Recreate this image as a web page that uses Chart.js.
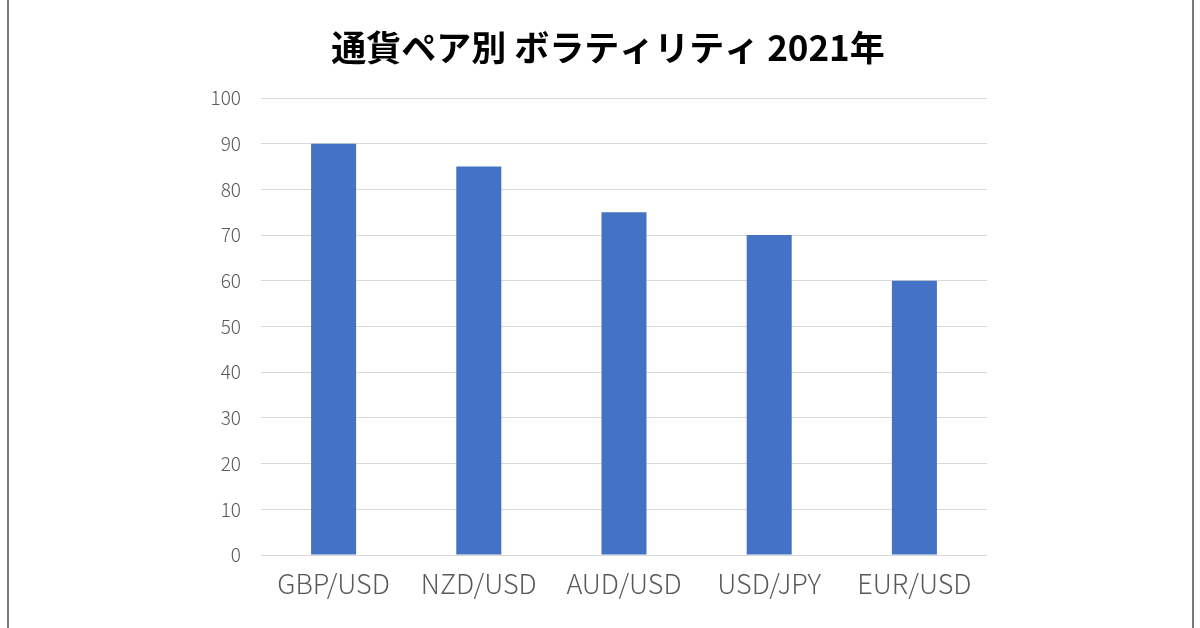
<!DOCTYPE html>
<html>
<head>
<meta charset="utf-8">
<script src="https://cdn.jsdelivr.net/npm/chart.js@4/dist/chart.umd.min.js"></script>
<style>
html,body{margin:0;padding:0;background:#fff;}
#wrap{width:1200px;height:628px;}
</style>
</head>
<body>
<div id="wrap"><canvas id="chart" width="1200" height="628"></canvas></div>
<script>
const pairs = ['GBP/USD','NZD/USD','AUD/USD','USD/JPY','EUR/USD'];
const volatility = [90,85,75,70,60];
const titleText = '通貨ペア別 ボラティリティ 2021年';

// side frame lines of the picture
const frameLines = {
id:'frameLines',
beforeDraw(chart){
const c = chart.ctx;
c.save();
c.fillStyle = '#fff';
c.fillRect(0,0,chart.width,chart.height);
c.strokeStyle = '#7a7a7a';
c.lineWidth = 2;
c.beginPath();
c.moveTo(8,0); c.lineTo(8,chart.height);
c.moveTo(1193,0); c.lineTo(1193,chart.height);
c.stroke();
c.restore();
}
};

const ctx = document.getElementById('chart').getContext('2d');

const chart = new Chart(ctx,{
type:'bar',
data:{
labels:pairs,
datasets:[{
data:volatility,
backgroundColor:'#4472C4',
borderWidth:0,
categoryPercentage:1,
barPercentage:0.31
}]
},
options:{
responsive:false,
animation:false,
layout:{padding:{left:209,right:193,top:20,bottom:0}},
plugins:{
legend:{display:false},
tooltip:{enabled:false},
title:{
display:true,
text:titleText,
color:'#000',
font:{family:'"Noto Sans CJK JP"',size:35,weight:'bold'},
padding:{top:7,bottom:29}
}
},
scales:{
x:{
grid:{display:false},
border:{display:false},
ticks:{color:'#595959',padding:5,font:{family:'"Noto Sans CJK JP"',size:27,weight:'300'}},
afterFit(s){ s.height = 73; }
},
y:{
min:0,max:100,
ticks:{stepSize:10,color:'#595959',padding:20,font:{family:'"Noto Sans CJK JP"',size:19,weight:'300'}},
grid:{color:'#d9d9d9',lineWidth:1,drawTicks:false},
border:{display:false},
afterFit(s){ s.width = 52; }
},
// empty right axis, only keeps the title centred like the original
yRight:{
position:'right',
grid:{display:false},
border:{display:false},
ticks:{display:false},
afterFit(s){ s.width = 20; }
}
}
},
plugins:[frameLines]
});
</script>
</body>
</html>
